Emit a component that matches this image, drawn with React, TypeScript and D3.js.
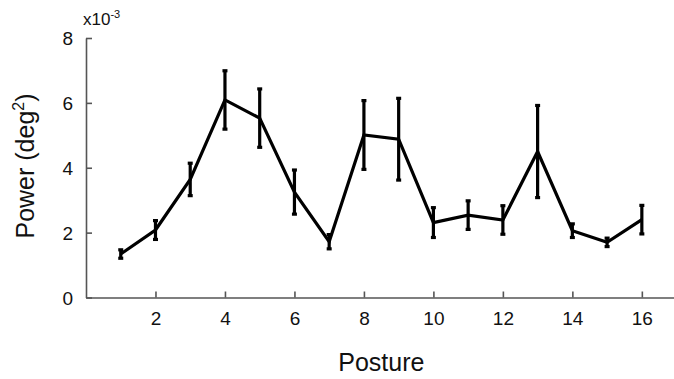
import React, { useEffect, useRef } from 'react';
import * as d3 from 'd3';

const postures = [1, 2, 3, 4, 5, 6, 7, 8, 9, 10, 11, 12, 13, 14, 15, 16];
const power = [1.34, 2.08, 3.64, 6.09, 5.53, 3.25, 1.72, 5.01, 4.88, 2.31, 2.54, 2.39, 4.5, 2.06, 1.7, 2.4];
const errors = [0.13, 0.29, 0.5, 0.9, 0.9, 0.68, 0.22, 1.06, 1.26, 0.46, 0.44, 0.44, 1.42, 0.21, 0.13, 0.44];
const xTicks = [2, 4, 6, 8, 10, 12, 14, 16];
const yTicks = [0, 2, 4, 6, 8];

const App = () => {
    const svgRef = useRef<SVGSVGElement>(null);

    useEffect(() => {
        document.body.style.margin = '0';
        const svg = d3.select(svgRef.current);
        svg.selectAll('*').remove();

        const width = 674;
        const height = 379;
        const left = 86, top = 38, bottom = 297.5;
        const font = '"Liberation Sans", Arial, sans-serif';

        const x = d3.scaleLinear().domain([0, 17]).range([left, left + 17 * 34.74]);
        const y = d3.scaleLinear().domain([0, 8]).range([bottom, top]);

        const pts = postures.map((p, i) => ({ p, v: power[i], e: errors[i] }));

        // axes
        const xAxis = svg.append('g')
            .attr('transform', `translate(0,${bottom})`)
            .call(d3.axisBottom(x).tickValues(xTicks).tickSizeInner(-6).tickSizeOuter(0).tickPadding(14));
        const yAxis = svg.append('g')
            .attr('transform', `translate(${left},0)`)
            .call(d3.axisLeft(y).tickValues(yTicks).tickSizeInner(-6).tickSizeOuter(0).tickPadding(13));

        [xAxis, yAxis].forEach(g => {
            g.selectAll('path, line').attr('stroke', '#555').attr('stroke-width', 1.6);
            g.selectAll('text').attr('fill', '#111').style('font-family', font).style('font-size', '19px');
        });
        yAxis.selectAll('text').attr('dy', '0.36em');

        // error bars
        const bars = svg.append('g').attr('stroke', '#000').attr('stroke-width', 3.2);
        pts.forEach(d => {
            bars.append('line')
                .attr('x1', x(d.p)).attr('x2', x(d.p))
                .attr('y1', y(d.v - d.e)).attr('y2', y(d.v + d.e));
            [d.v - d.e, d.v + d.e].forEach(v => {
                bars.append('line')
                    .attr('x1', x(d.p) - 2.5).attr('x2', x(d.p) + 2.5)
                    .attr('y1', y(v)).attr('y2', y(v));
            });
        });

        // mean line
        const line = d3.line<{ p: number; v: number }>().x(d => x(d.p)).y(d => y(d.v));
        svg.append('path')
            .datum(pts)
            .attr('d', line)
            .attr('fill', 'none')
            .attr('stroke', '#000')
            .attr('stroke-width', 3.2)
            .attr('stroke-linejoin', 'miter');

        // multiplier
        const mult = svg.append('text')
            .attr('x', 83).attr('y', 25)
            .style('font-family', font).style('font-size', '17px').attr('fill', '#111');
        mult.append('tspan').text('x10');
        mult.append('tspan').attr('dy', -7).style('font-size', '11px').text('-3');

        // axis titles
        svg.append('text')
            .attr('x', x(8.5)).attr('y', 371)
            .attr('text-anchor', 'middle')
            .style('font-family', font).style('font-size', '25px').attr('fill', '#111')
            .text('Posture');

        const yt = svg.append('text')
            .attr('transform', `translate(34,166) rotate(-90)`)
            .attr('text-anchor', 'middle')
            .style('font-family', font).style('font-size', '25px').attr('fill', '#111');
        yt.append('tspan').text('Power (deg');
        yt.append('tspan').attr('dy', -10).style('font-size', '16px').text('2');
        yt.append('tspan').attr('dy', 10).text(')');

        svg.attr('width', width).attr('height', height);
    }, []);

    return <svg ref={svgRef} width={674} height={379} style={{ display: 'block', background: '#fff' }}></svg>;
};

export default App;
